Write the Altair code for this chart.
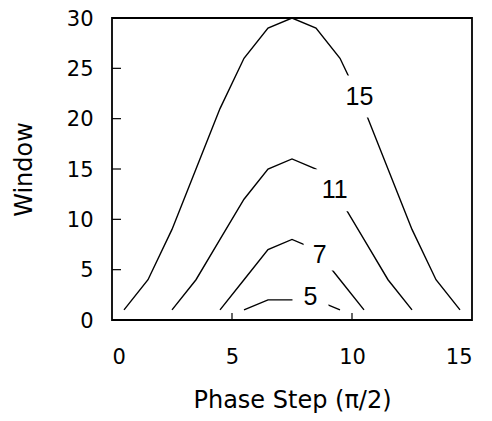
import altair as alt
import pandas as pd

# Curve data (Window vs Phase Step), one list pair per contour level
x15 = [0.5, 1.5, 2.5, 3.5, 4.5, 5.5, 6.5, 7.5, 8.5, 9.5, 10.5, 11.5, 12.5, 13.5, 14.5]
y15 = [1, 4, 9, 15, 21, 26, 29, 30, 29, 26, 21, 15, 9, 4, 1]
x11 = [2.5, 3.5, 4.5, 5.5, 6.5, 7.5, 8.5, 9.5, 10.5, 11.5, 12.5]
y11 = [1, 4, 8, 12, 15, 16, 15, 12, 8, 4, 1]
x7 = [4.5, 5.5, 6.5, 7.5, 8.5, 9.5, 10.5]
y7 = [1, 4, 7, 8, 7, 4, 1]
x5 = [5.5, 6.5, 7.5, 8.5, 9.5]
y5 = [1, 2, 2, 2, 1]

levels = ["15", "11", "7", "5"]
label_x = [10.31, 9.28, 8.65, 8.27]
label_y = [22.2, 12.9, 6.5, 2.25]
mask_side = [42, 42, 32, 36]

x_ticks = [5, 10]
y_ticks = [5, 10, 15, 20, 25]
x_labels = [0, 5, 10, 15]
y_labels = [0, 5, 10, 15, 20, 25, 30]

rows = []
for lev, xs, ys in zip(levels, [x15, x11, x7, x5], [y15, y11, y7, y5]):
    for xv, yv in zip(xs, ys):
        rows.append({"x": xv, "y": yv, "level": lev})
curves = pd.DataFrame(rows)

labels = pd.DataFrame({
    "level": levels,
    "x": label_x,
    "y": label_y,
    "area": [s * s for s in mask_side],
})
xt = pd.DataFrame({"x": x_ticks})
yt = pd.DataFrame({"y": y_ticks})

FONT = "DejaVu Sans"

xscale = alt.Scale(domain=[0, 15], nice=False, zero=False)
yscale = alt.Scale(domain=[0, 30], nice=False, zero=False)

xaxis = alt.Axis(values=x_labels, ticks=False, domain=False, grid=False,
                 labelFont=FONT, labelFontSize=21, labelColor="black",
                 labelPadding=26, labelFontWeight="normal",
                 title="Phase Step (π/2)", titleFont=FONT, titleFontSize=24,
                 titleFontWeight="normal", titleColor="black", titlePadding=21)
yaxis = alt.Axis(values=y_labels, ticks=False, domain=False, grid=False,
                 labelFont=FONT, labelFontSize=21, labelColor="black",
                 labelPadding=19, labelOffset=1, labelFontWeight="normal",
                 title="Window", titleFont=FONT, titleFontSize=24,
                 titleFontWeight="normal", titleColor="black", titlePadding=30)

lines = alt.Chart(curves).mark_line(color="black", strokeWidth=1.4).encode(
    x=alt.X("x:Q", scale=xscale, axis=xaxis),
    y=alt.Y("y:Q", scale=yscale, axis=yaxis),
    detail="level:N",
)

masks = alt.Chart(labels).mark_point(shape="square", filled=True, color="white",
                                     opacity=1, strokeWidth=0).encode(
    x="x:Q", y="y:Q", size=alt.Size("area:Q", scale=None, legend=None),
)

texts = alt.Chart(labels).mark_text(font="Liberation Sans", fontSize=25,
                                    color="black", align="center",
                                    baseline="middle").encode(
    x="x:Q", y="y:Q", text="level:N",
)

xtick = alt.Chart(xt).mark_rule(color="black", strokeWidth=1.2).encode(
    x="x:Q", y=alt.value(302), y2=alt.value(295),
)
ytick = alt.Chart(yt).mark_rule(color="black", strokeWidth=1.2).encode(
    y="y:Q", x=alt.value(0), x2=alt.value(9),
)

chart = alt.layer(lines, masks, texts, xtick, ytick).properties(
    width=360, height=302,
    background="white",
    autosize=alt.AutoSizeParams(type="none"),
    padding={"left": 104, "top": 10, "right": 12, "bottom": 93},
).configure_view(stroke="black", strokeWidth=1.8)

chart.save("out.html", embed_options={"renderer": "svg", "actions": False})
